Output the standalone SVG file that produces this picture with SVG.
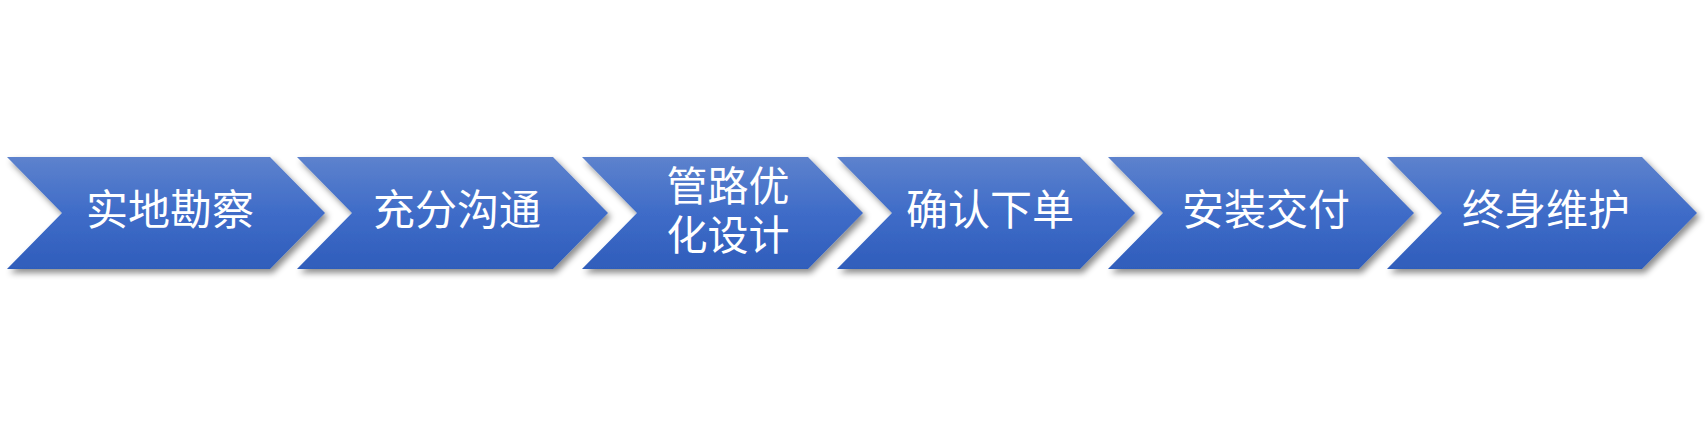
<svg xmlns="http://www.w3.org/2000/svg" width="1705" height="438" viewBox="0 0 1705 438">
  <defs>
    <linearGradient id="g" x1="0" y1="0" x2="0" y2="1">
      <stop offset="0" stop-color="#5d82cd"/>
      <stop offset="0.5" stop-color="#3f6cc8"/>
      <stop offset="1" stop-color="#2f5dbb"/>
    </linearGradient>
    <filter id="sh" x="-5%" y="-20%" width="115%" height="150%">
      <feDropShadow dx="3" dy="4" stdDeviation="3" flood-color="#000" flood-opacity="0.45"/>
    </filter>
  </defs>
  <style>
    .c { fill: url(#g); filter: url(#sh); }
    .t { font-family: "Noto Sans CJK SC", "Liberation Sans", sans-serif; font-size: 42px; fill: #ffffff; text-anchor: middle; }
    .t2 { font-size: 41px; }
  </style>
  <rect width="1705" height="438" fill="#ffffff"/>
  <g id="connectors"/>
  <g id="n1">
    <path class="c" d="M7,157 H270 L325,213 L270,269 H7 L62,213 Z"/>
    <text class="t" x="170" y="225">实地勘察</text>
  </g>
  <g id="n2">
    <path class="c" d="M297,157 H553 L608,213 L553,269 H297 L352,213 Z"/>
    <text class="t" x="457" y="225">充分沟通</text>
  </g>
  <g id="n3">
    <path class="c" d="M582,157 H808 L863,213 L808,269 H582 L637,213 Z"/>
    <text class="t t2" x="728" y="201">管路优</text>
    <text class="t t2" x="728" y="250">化设计</text>
  </g>
  <g id="n4">
    <path class="c" d="M837,157 H1080 L1135,213 L1080,269 H837 L892,213 Z"/>
    <text class="t" x="990" y="225">确认下单</text>
  </g>
  <g id="n5">
    <path class="c" d="M1108,157 H1359 L1414,213 L1359,269 H1108 L1163,213 Z"/>
    <text class="t" x="1266" y="225">安装交付</text>
  </g>
  <g id="n6">
    <path class="c" d="M1387,157 H1642 L1697,213 L1642,269 H1387 L1442,213 Z"/>
    <text class="t" x="1546" y="225">终身维护</text>
  </g>
</svg>
